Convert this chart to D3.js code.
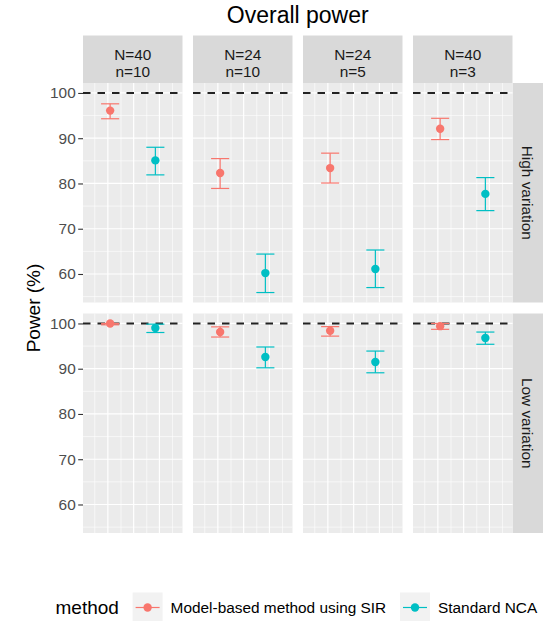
<!DOCTYPE html>
<html><head><meta charset="utf-8">
<script src="https://cdn.jsdelivr.net/npm/d3@7"></script>
<style>body{margin:0;background:#fff;}svg{display:block;font-family:"Liberation Sans",Arial,sans-serif;}</style>
</head><body><svg id="c" width="546" height="621"></svg>
<script>
// ---- data ----
const title = "Overall power";
const yTitle = "Power (%)";
const facetTop = ["N=40", "N=24", "N=24", "N=40"];
const facetBottom = ["n=10", "n=10", "n=5", "n=3"];
const variations = ["High variation", "Low variation"];
const methods = ["Model-based method using SIR", "Standard NCA"];
const legendTitle = "method";
const colors = ["#F8766D", "#00BFC4"];
// power estimates [variation][facet]
const sirPower = [[96.1, 82.3, 83.4, 92.1], [100.0, 98.1, 98.4, 99.4]];
const sirLower = [[94.3, 78.9, 80.1, 89.7], [99.7, 97.0, 97.2, 98.7]];
const sirUpper = [[97.6, 85.5, 86.7, 94.4], [100.0, 99.25, 99.3, 100.0]];
const ncaPower = [[85.1, 60.2, 61.1, 77.7], [99.0, 92.6, 91.5, 96.8]];
const ncaLower = [[81.9, 55.9, 57.0, 74.0], [98.0, 90.2, 89.1, 95.4]];
const ncaUpper = [[88.0, 64.4, 65.3, 81.3], [99.85, 94.8, 93.9, 98.1]];
const refLine = 100;
const yTicks = [60, 70, 80, 90, 100];
const yMinor = [55, 65, 75, 85, 95];
const yDomain = [53.7, 102.2];
const xGridMajor = [0.95, 1.52, 2.09];
const xGridMinor = [0.66, 1.24, 1.81, 2.38];

// ---- layout ----
const svg = d3.select("#c");
const px0 = 83, pw = 99.5, pgap = 10.5;
const rowY = [83, 313.5], ph = 219.5;
const stripTop = 35.5, stripX = 512.5, stripW = 30.5;
const font = "15.4px";

const x = d3.scalePoint().domain(methods).range([0, pw]).padding(0.6);
const xLin = d3.scaleLinear().domain([0.4, 2.6]).range([0, pw]);
const y = d3.scaleLinear().domain(yDomain).range([ph, 0]);
const capW = 0.4 * x.step();

const series = [
  {m: methods[0], c: colors[0], v: sirPower, lo: sirLower, hi: sirUpper},
  {m: methods[1], c: colors[1], v: ncaPower, lo: ncaLower, hi: ncaUpper}
];

// title
svg.append("text").attr("x", px0 + (4 * pw + 3 * pgap) / 2).attr("y", 22.5)
  .attr("text-anchor", "middle").attr("font-size", "23px").attr("fill", "#000").text(title);

// top strips
facetTop.forEach((t, j) => {
  const gx = px0 + j * (pw + pgap);
  svg.append("rect").attr("x", gx).attr("y", stripTop).attr("width", pw).attr("height", rowY[0] - stripTop).attr("fill", "#D9D9D9");
  const cx = gx + pw / 2;
  svg.append("text").attr("x", cx).attr("y", 60).attr("text-anchor", "middle").attr("font-size", font).attr("fill", "#1A1A1A").text(t);
  svg.append("text").attr("x", cx).attr("y", 76.5).attr("text-anchor", "middle").attr("font-size", font).attr("fill", "#1A1A1A").text(facetBottom[j]);
});

// right strips
variations.forEach((v, i) => {
  svg.append("rect").attr("x", stripX).attr("y", rowY[i]).attr("width", stripW).attr("height", ph).attr("fill", "#D9D9D9");
  const cx = stripX + stripW / 2 - 5.5, cy = rowY[i] + ph / 2;
  svg.append("text").attr("transform", `translate(${cx},${cy}) rotate(90)`).attr("text-anchor", "middle")
    .attr("font-size", font).attr("fill", "#1A1A1A").text(v);
});

// panels
variations.forEach((v, i) => {
  const ax = svg.append("g").attr("transform", `translate(${px0},${rowY[i]})`)
    .call(d3.axisLeft(y).tickValues(yTicks).tickSize(4.8).tickPadding(2.5));
  ax.select(".domain").remove();
  ax.selectAll(".tick line").attr("stroke", "#333").attr("stroke-width", 1.1);
  ax.selectAll(".tick text").attr("fill", "#4D4D4D").attr("font-size", font).attr("font-family", "Liberation Sans, Arial, sans-serif");

  facetTop.forEach((f, j) => {
    const g = svg.append("g").attr("transform", `translate(${px0 + j * (pw + pgap)},${rowY[i]})`);
    g.append("rect").attr("width", pw).attr("height", ph).attr("fill", "#EBEBEB");
    g.selectAll(".hmin").data(yMinor).join("line").attr("x1", 0).attr("x2", pw)
      .attr("y1", d => y(d)).attr("y2", d => y(d)).attr("stroke", "#fff").attr("stroke-width", 0.6);
    g.selectAll(".vmin").data(xGridMinor).join("line").attr("y1", 0).attr("y2", ph)
      .attr("x1", d => xLin(d)).attr("x2", d => xLin(d)).attr("stroke", "#fff").attr("stroke-width", 0.6);
    g.selectAll(".hmaj").data(yTicks).join("line").attr("x1", 0).attr("x2", pw)
      .attr("y1", d => y(d)).attr("y2", d => y(d)).attr("stroke", "#fff").attr("stroke-width", 1.2);
    g.selectAll(".vmaj").data(xGridMajor).join("line").attr("y1", 0).attr("y2", ph)
      .attr("x1", d => xLin(d)).attr("x2", d => xLin(d)).attr("stroke", "#fff").attr("stroke-width", 1.2);
    g.append("line").attr("x1", 0).attr("x2", pw).attr("y1", y(refLine)).attr("y2", y(refLine))
      .attr("stroke", "#222").attr("stroke-width", 2).attr("stroke-dasharray", "7.5,7");
    series.forEach(s => {
      const cx = x(s.m);
      const lo = y(s.lo[i][j]), hi = y(s.hi[i][j]);
      g.append("line").attr("x1", cx).attr("x2", cx).attr("y1", lo).attr("y2", hi).attr("stroke", s.c).attr("stroke-width", 1.2);
      g.append("line").attr("x1", cx - capW / 2).attr("x2", cx + capW / 2).attr("y1", lo).attr("y2", lo).attr("stroke", s.c).attr("stroke-width", 1.2);
      g.append("line").attr("x1", cx - capW / 2).attr("x2", cx + capW / 2).attr("y1", hi).attr("y2", hi).attr("stroke", s.c).attr("stroke-width", 1.2);
      g.append("circle").attr("cx", cx).attr("cy", y(s.v[i][j])).attr("r", 4.2).attr("fill", s.c);
    });
  });
});

// y axis title
svg.append("text").attr("transform", `translate(40,${(rowY[0] + rowY[1] + ph) / 2}) rotate(-90)`)
  .attr("text-anchor", "middle").attr("font-size", "19px").attr("fill", "#000").text(yTitle);

// legend
const ly = 607.5;
svg.append("text").attr("x", 55.5).attr("y", ly).attr("dy", "0.35em").attr("font-size", "19px").attr("fill", "#000").text(legendTitle);
const keyX = [132.6, 400];
series.forEach((s, k) => {
  const kx = keyX[k];
  svg.append("rect").attr("x", kx).attr("y", ly - 15).attr("width", 30).attr("height", 30).attr("fill", "#F2F2F2");
  svg.append("line").attr("x1", kx + 3).attr("x2", kx + 27).attr("y1", ly).attr("y2", ly).attr("stroke", s.c).attr("stroke-width", 1.2);
  svg.append("circle").attr("cx", kx + 15).attr("cy", ly).attr("r", 4.2).attr("fill", s.c);
  svg.append("text").attr("x", kx + 38).attr("y", ly).attr("dy", "0.35em").attr("font-size", font).attr("fill", "#000").text(s.m);
});
</script></body></html>
